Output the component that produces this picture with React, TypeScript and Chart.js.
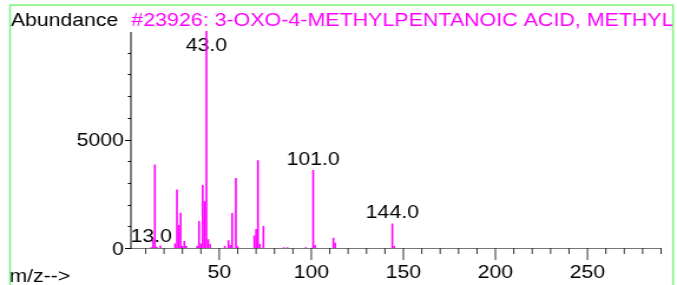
import React, { useEffect, useRef } from 'react';
import { Chart, registerables } from 'chart.js';

Chart.register(...registerables);

// ---- data (m/z, abundance) ----
const mzValues = [13, 14, 15, 16, 18, 26, 27, 28, 29, 30, 31, 32, 38, 39, 40, 41, 42, 43, 44, 45, 53, 55, 56, 57, 59, 60, 69, 70, 71, 72, 74, 85, 87, 97, 101, 102, 112, 113, 144, 145];
const abundances = [40, 420, 3850, 60, 120, 210, 2700, 1060, 1620, 90, 320, 90, 90, 1240, 210, 2900, 2150, 10000, 400, 190, 90, 360, 140, 1610, 3230, 80, 580, 870, 4040, 180, 1010, 40, 30, 30, 3590, 140, 470, 240, 1130, 90];
const peakLabelMz = [13, 43, 101, 144];
const xTickLabels = [50, 100, 150, 200, 250];
const yTickLabels = [0, 5000];
const xMin = 2;
const xMax = 290;
const yMax = 10000;
const xMinorStep = 10;
const yMinorStep = 1000;
const titleText = '#23926: 3-OXO-4-METHYLPENTANOIC ACID, METHYL ESTER';
const yAxisTitle = 'Abundance';
const xAxisTitle = 'm/z-->';

const FONT = '"Liberation Sans", Arial, Helvetica, sans-serif';
const MAGENTA = '#ff00ff';
const GREEN = '#7cf27c';
const W = 574; // internal canvas width (stretched to 677 on screen)
const H = 285;

const overlay = {
  id: 'overlay',
  beforeDatasetsDraw(chart: any) {
    const { ctx, chartArea } = chart;
    const x = chart.scales.x;
    const y = chart.scales.y;
    ctx.save();
    ctx.font = `18px ${FONT}`;
    ctx.fillStyle = '#000';
    ctx.textAlign = 'center';
    ctx.textBaseline = 'alphabetic';
    peakLabelMz.forEach((mz) => {
      const i = mzValues.indexOf(mz);
      const px = x.getPixelForValue(mz);
      const top = y.getPixelForValue(abundances[i]);
      const base = Math.max(top - 5, chartArea.top + 20);
      ctx.fillText(mz.toFixed(1), px, base);
    });
    ctx.restore();
  },
  afterDraw(chart: any) {
    const { ctx, chartArea } = chart;
    const x = chart.scales.x;
    const y = chart.scales.y;
    const { left, right, top, bottom } = chartArea;
    ctx.save();
    // x axis line
    ctx.strokeStyle = '#777';
    ctx.lineWidth = 1;
    ctx.beginPath();
    ctx.moveTo(left, bottom + 0.5);
    ctx.lineTo(right, bottom + 0.5);
    ctx.stroke();
    // x ticks
    ctx.strokeStyle = '#333';
    for (let v = xMinorStep; v <= xMax; v += xMinorStep) {
      const px = x.getPixelForValue(v);
      const len = v % 50 === 0 ? 12 : 6;
      ctx.beginPath();
      ctx.moveTo(px, bottom);
      ctx.lineTo(px, bottom + len);
      ctx.stroke();
    }
    // y axis line
    ctx.strokeStyle = '#000';
    ctx.beginPath();
    ctx.moveTo(left, top + 1);
    ctx.lineTo(left, bottom + 1);
    ctx.stroke();
    for (let v = 0; v < yMax; v += yMinorStep) {
      const py = Math.round(y.getPixelForValue(v)) + 0.5;
      const len = v % 5000 === 0 ? 5 : 2.5;
      ctx.beginPath();
      ctx.moveTo(left - len, py);
      ctx.lineTo(left, py);
      ctx.stroke();
    }
    // texts
    ctx.font = `18px ${FONT}`;
    ctx.textAlign = 'left';
    ctx.textBaseline = 'alphabetic';
    ctx.fillStyle = '#000';
    ctx.fillText(yAxisTitle, 9.2, 25.5);
    ctx.fillText(xAxisTitle, 8, 282);
    ctx.save();
    ctx.beginPath();
    ctx.rect(0, 0, 570, H);
    ctx.clip();
    ctx.font = `18.17px ${FONT}`;
    ctx.fillStyle = MAGENTA;
    ctx.fillText(titleText, 111.3, 26);
    ctx.restore();
    // frame
    ctx.strokeStyle = GREEN;
    ctx.lineWidth = 1.5;
    ctx.beginPath();
    ctx.moveTo(8.5, H + 5);
    ctx.lineTo(8.5, 5);
    ctx.lineTo(570.6, 5);
    ctx.lineTo(570.6, H + 5);
    ctx.stroke();
    ctx.restore();
  },
};

export default function App() {
  const ref = useRef<HTMLCanvasElement | null>(null);
  useEffect(() => {
    const canvas = ref.current;
    if (!canvas) return;
    const chart = new Chart(canvas, {
      type: 'bar',
      data: {
        datasets: [
          {
            data: mzValues.map((m, i) => ({ x: m, y: abundances[i] })),
            backgroundColor: MAGENTA,
            borderWidth: 0,
            barThickness: 1.6,
            inflateAmount: 0,
          } as any,
        ],
      },
      options: {
        responsive: false,
        devicePixelRatio: 1,
        animation: false,
        events: [],
        layout: { padding: { left: 0, top: 31, right: 13.5, bottom: 0 } },
        plugins: { legend: { display: false }, tooltip: { enabled: false }, title: { display: false } },
        scales: {
          x: {
            type: 'linear',
            min: xMin,
            max: xMax,
            offset: false,
            grid: { display: false, drawTicks: false },
            border: { display: false },
            afterBuildTicks: (s: any) => {
              s.ticks = xTickLabels.map((v) => ({ value: v }));
            },
            ticks: {
              font: { family: FONT, size: 18 },
              color: '#000',
              padding: 14,
              autoSkip: false,
              maxRotation: 0,
              callback: (v: any) => String(v),
            },
            afterFit: (s: any) => {
              s.height = 37;
            },
          },
          y: {
            type: 'linear',
            min: 0,
            max: yMax,
            grid: { display: false, drawTicks: false },
            border: { display: false },
            afterBuildTicks: (s: any) => {
              s.ticks = yTickLabels.map((v) => ({ value: v }));
            },
            ticks: {
              font: { family: FONT, size: 18 },
              color: '#000',
              padding: 6,
              labelOffset: 2,
              callback: (v: any) => String(v),
            },
            afterFit: (s: any) => {
              s.width = 111;
            },
          },
        },
      } as any,
      plugins: [overlay],
    });
    return () => chart.destroy();
  }, []);

  return (
    <div style={{ position: 'fixed', left: 0, top: 0, width: 677, height: 285, background: '#fff' }}>
      <canvas
        ref={ref}
        width={W}
        height={H}
        style={{ width: '677px', height: '285px', display: 'block' }}
      />
    </div>
  );
}
